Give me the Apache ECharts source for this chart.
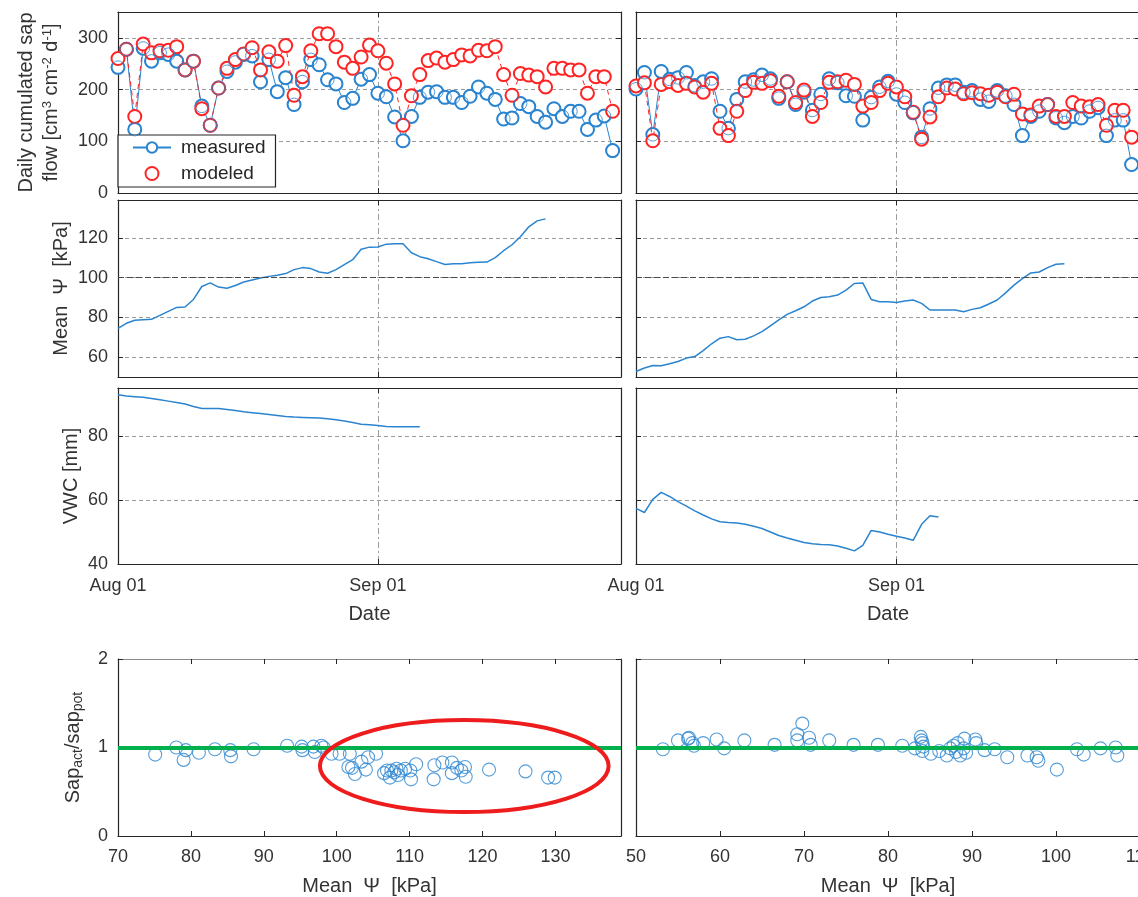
<!DOCTYPE html>
<html><head><meta charset="utf-8">
<script src="https://cdn.jsdelivr.net/npm/echarts@6/dist/echarts.min.js"></script>
<style>html,body{margin:0;padding:0;background:#fff}#c{width:1138px;height:897px}</style>
</head><body><div id="c"></div><script>
// ---------------- DATA ----------------
const dayTickValues = [0, 31];
const dayTickLabels = ['Aug 01', 'Sep 01'];
const dayRange = [0, 60];            // Aug 01 .. Sep 30 (day offsets)

const sapTicks = [0, 100, 200, 300];
const psiTicks = [60, 80, 100, 120];
const vwcTicks = [40, 60, 80];
const ratioTicks = [0, 1, 2];
const psiAxisTicksA = [70, 80, 90, 100, 110, 120, 130];
const psiAxisTicksB = [50, 60, 70, 80, 90, 100, 110];

// daily cumulated sap flow, left site (day 0 = Aug 01)
const sapMeasuredA = [243,278,123,280,255,271,268,255,238,255,
  168,131,203,235,253,268,265,215,258,196,
  223,171,215,258,248,219,211,175,183,220,
  229,193,186,147,101,148,185,195,196,185,
  185,175,187,205,193,181,143,145,173,167,
  148,137,163,148,158,158,123,141,149,82];
const sapModeledA = [260,278,148,288,271,275,276,283,238,255,
  163,131,203,241,258,269,281,238,273,255,
  285,189,225,275,308,308,283,253,241,263,
  286,275,251,211,131,188,229,256,261,253,
  258,267,265,276,275,283,229,189,231,228,
  225,205,241,241,238,238,193,225,225,158];
// right site
const sapMeasuredB = [201,233,113,235,220,223,233,208,215,221,
  158,125,181,215,219,228,221,183,215,171,
  195,160,191,221,213,188,187,141,185,205,
  216,191,175,155,108,163,203,209,209,195,
  198,181,177,198,188,171,111,148,158,171,
  145,136,148,145,158,165,111,141,141,55];
const sapModeledB = [207,213,101,210,215,208,212,205,195,212,
  125,111,158,198,214,212,217,187,215,175,
  199,148,175,214,215,218,210,168,175,198,
  212,205,186,156,104,147,186,203,201,192,
  194,192,189,195,186,191,153,151,168,171,
  148,148,175,168,167,171,131,160,160,108];

// mean soil water potential [kPa]
const psiA = [74.5,77,78.5,78.8,79,81,83,85,85.2,89,
  95.5,97.3,95.2,94.6,96,97.8,98.8,99.8,100.6,101.2,
  102,104,105,104.5,102.8,102.2,104,106.5,109,114.2,
  115.3,115.4,116.8,117,117,112.5,110.5,109.5,108,106.6,
  107,107,107.5,107.7,107.8,110,113.5,116.5,120.5,125.5,
  128.5,129.5];
const psiB = [52.8,54.5,55.8,55.7,56.7,57.8,59.5,60.3,63.3,66.7,
  69.5,70.3,68.7,69,70.7,72.8,75.7,78.7,81.5,83.3,
  85.3,88.2,90,90.3,91.2,93.7,97,97.3,89,87.8,
  87.8,87.5,88.2,88.7,87,83.7,83.7,83.7,83.7,82.8,
  84,84.8,86.7,88.7,92.3,96.2,99.5,102.3,102.8,105,
  106.7,107];
const psiThreshold = 100;

// soil water content [mm]
const vwcA = [92.9,92.5,92.3,92.1,91.7,91.3,90.9,90.5,90.0,89.2,
  88.6,88.6,88.6,88.3,88.0,87.6,87.3,87.0,86.7,86.4,
  86.1,85.9,85.8,85.7,85.6,85.4,85.1,84.7,84.2,83.7,
  83.5,83.3,83.0,82.9,82.9,82.9,82.9];
const vwcB = [57.4,56.1,60.2,62.4,61.1,59.5,58.1,56.6,55.3,54.1,
  53.2,53.0,52.8,52.4,51.8,51.1,50.0,48.9,48.1,47.4,
  46.7,46.3,46.1,46.0,45.6,44.9,44.1,45.8,50.5,50.0,
  49.3,48.7,48.1,47.4,52.4,55.1,54.7];

// sap_act / sap_pot versus mean psi
const ratioPsiA = [75.1,78.0,79.3,79.0,81.1,83.3,85.4,85.5,88.6,93.2,
  95.2,95.3,96.8,97.0,97.9,98.2,99.3,100.4,101.8,101.6,
  102.1,102.5,103.4,104.0,104.3,105.4,106.5,106.9,107.3,107.5,
  107.9,108.2,108.4,108.8,109.4,110.1,110.2,110.9,113.3,113.4,
  114.5,115.8,115.8,116.5,117.1,117.6,117.7,120.9,125.9,129.0,129.9];
const ratioA = [0.92,1.00,0.97,0.86,0.94,0.98,0.97,0.90,0.98,1.02,
  1.01,0.97,1.01,0.95,1.02,1.00,0.93,0.93,0.93,0.78,
  0.77,0.70,0.84,0.75,0.89,0.93,0.71,0.74,0.66,0.74,
  0.72,0.76,0.69,0.74,0.76,0.74,0.64,0.81,0.64,0.80,
  0.83,0.83,0.71,0.77,0.74,0.78,0.67,0.75,0.73,0.66,0.66];
const ratioPsiB = [53.2,55.0,56.2,56.3,56.7,56.9,58.0,59.6,60.5,62.9,
  66.5,69.2,69.2,69.8,70.6,70.8,73.0,75.9,78.8,81.7,
  83.2,83.9,84.0,84.1,84.2,84.1,85.1,86.1,87.0,87.4,
  87.8,88.1,88.3,88.6,89.0,89.1,89.3,90.4,90.5,91.5,
  92.7,94.2,96.6,97.7,97.9,100.1,102.5,103.3,105.3,107.1,107.3];
const ratioB = [0.98,1.08,1.10,1.11,1.05,1.02,1.05,1.09,0.99,1.08,
  1.03,1.15,1.08,1.27,1.11,1.03,1.08,1.03,1.03,1.02,
  0.99,1.12,1.08,1.05,1.01,0.96,0.93,0.96,0.91,0.99,
  1.02,0.95,1.05,0.91,0.99,1.10,0.94,1.09,1.05,0.97,
  0.98,0.89,0.91,0.89,0.85,0.75,0.98,0.92,0.99,1.00,0.91];
const ratioRef = 1;
// highlighted region (data units): centre psi, centre ratio, half-width psi, half-height ratio
const stressEllipse = [117.5, 0.79, 19.8, 0.52];

// ---------------- STYLE / LAYOUT ----------------
const FONT = '"Liberation Sans", Arial, sans-serif';
const AX = '#262626', TXT = '#333333', GRIDC = '#9c9c9c';
const BLUE = '#2a84cf', RED = '#ff2424', GREEN = '#00b04c';
const cols = [{left: 118, width: 503}, {left: 636, width: 504}];
const rows = [{top: 12, height: 181}, {top: 200, height: 177}, {top: 388, height: 176}, {top: 659, height: 177}];

const grid = [];
rows.forEach(r => cols.forEach(c => grid.push({left: c.left, top: r.top, width: c.width, height: r.height,
  containLabel: false, outerBoundsMode: 'none'})));

const xAxis = [], yAxis = [];
function addAxes(kind, g, cfg) {
  const arr = kind === 'x' ? xAxis : yAxis;
  arr.push({
    type: 'value', gridIndex: g, min: cfg.min, max: cfg.max,
    position: kind === 'x' ? 'bottom' : 'left',
    axisLine: {show: true, onZero: false, lineStyle: {color: AX, width: 1.2}},
    axisTick: {show: true, inside: true, length: 5, customValues: cfg.ticks, lineStyle: {color: AX, width: 1}},
    axisLabel: {show: !!cfg.labels, customValues: cfg.ticks, formatter: cfg.fmt || (v => String(v)),
      fontSize: 18, fontFamily: FONT, color: TXT, margin: cfg.margin || 10, hideOverlap: false},
    splitLine: {show: !!cfg.split, lineStyle: {color: GRIDC, width: 1, type: cfg.splitType || [4, 3]}},
    name: cfg.name || '', nameLocation: 'middle', nameGap: cfg.nameGap || 0, nameRotate: kind === 'y' ? 90 : 0,
    nameTextStyle: Object.assign({fontSize: 20, fontFamily: FONT, color: TXT}, cfg.nameStyle || {})
  });
  arr.push({
    type: 'value', gridIndex: g, min: cfg.min, max: cfg.max,
    position: kind === 'x' ? 'top' : 'right',
    axisLine: {show: true, onZero: false, lineStyle: {color: cfg.secColor || AX, width: 1.2}},
    axisTick: {show: true, inside: true, length: 5, customValues: cfg.ticks, lineStyle: {color: AX, width: 1}},
    axisLabel: {show: false}, splitLine: {show: false}
  });
}
const dateFmt = v => { const i = dayTickValues.indexOf(v); return i >= 0 ? dayTickLabels[i] : ''; };

for (let r = 0; r < 4; r++) {
  for (let c = 0; c < 2; c++) {
    const g = r * 2 + c;
    if (r < 3) {
      addAxes('x', g, {min: dayRange[0], max: dayRange[1], ticks: dayTickValues, labels: r === 2, fmt: dateFmt,
        split: true, splitType: [6, 3, 2, 3], name: r === 2 ? 'Date' : '', nameGap: 40, margin: 13});
    } else {
      addAxes('x', g, {min: c === 0 ? 70 : 50, max: c === 0 ? 139 : 110,
        ticks: c === 0 ? psiAxisTicksA : psiAxisTicksB, labels: true, margin: 12,
        name: 'Mean  \u03A8  [kPa]', nameGap: 40, secColor: '#8a8a8a'});
    }
    const yl = c === 0;
    if (r === 0) addAxes('y', g, {min: 0, max: 350, ticks: sapTicks, labels: yl, split: true,
      name: yl ? 'Daily cumulated sap\nflow [cm{sup|3} cm{sup|-2} d{sup|-1}]' : '', nameGap: 54,
      nameStyle: {lineHeight: 25, rich: {sup: {fontSize: 13, fontFamily: FONT, color: TXT, padding: [0, 0, 9, 0], lineHeight: 25}}}});
    if (r === 1) addAxes('y', g, {min: 50, max: 139, ticks: psiTicks, labels: yl, split: true,
      name: yl ? 'Mean  \u03A8  [kPa]' : '', nameGap: 47});
    if (r === 2) addAxes('y', g, {min: 40, max: 95, ticks: vwcTicks, labels: yl, split: true,
      name: yl ? 'VWC [mm]' : '', nameGap: 37});
    if (r === 3) addAxes('y', g, {min: 0, max: 2, ticks: ratioTicks, labels: yl, split: false,
      name: yl ? 'Sap{sub|act}/sap{sub|pot}' : '', nameGap: 33,
      nameStyle: {rich: {sub: {fontSize: 14, fontFamily: FONT, color: TXT, padding: [10, 0, 0, 0]}}}});
  }
}

const toXY = arr => arr.map((v, i) => [i, v]);
const series = [];
function ax(g) { return {xAxisIndex: 2 * g, yAxisIndex: 2 * g}; }

[[sapMeasuredA, sapModeledA], [sapMeasuredB, sapModeledB]].forEach((pair, c) => {
  const g = c;
  series.push(Object.assign({type: 'line', name: 'measured', data: toXY(pair[0]), symbol: 'emptyCircle', symbolSize: 13,
    showAllSymbol: true, lineStyle: {color: BLUE, width: 1}, itemStyle: {color: BLUE, borderWidth: 1},
    z: 2, animation: false, silent: true}, ax(g)));
  series.push(Object.assign({type: 'line', name: 'modeled', data: toXY(pair[1]), symbol: 'emptyCircle', symbolSize: 13,
    showAllSymbol: true, lineStyle: {color: RED, width: 1, type: [5, 4]}, itemStyle: {color: RED, borderWidth: 1},
    z: 3, animation: false, silent: true}, ax(g)));
  series.push(Object.assign({type: 'scatter', name: '_measuredRing', data: toXY(pair[0]), symbol: 'circle', symbolSize: 13,
    itemStyle: {color: 'rgba(0,0,0,0)', borderColor: BLUE, borderWidth: 1}, z: 4, animation: false, silent: true}, ax(g)));
});

[psiA, psiB].forEach((d, c) => {
  series.push(Object.assign({type: 'line', name: '_psi' + c, data: toXY(d), showSymbol: false,
    lineStyle: {color: BLUE, width: 1.5}, animation: false, silent: true,
    markLine: {silent: true, symbol: 'none', label: {show: false}, animation: false,
      lineStyle: {color: '#4a4a4a', type: [6, 3], width: 1.2}, data: [{yAxis: psiThreshold}]}}, ax(2 + c)));
});
[vwcA, vwcB].forEach((d, c) => {
  series.push(Object.assign({type: 'line', name: '_vwc' + c, data: toXY(d), showSymbol: false,
    lineStyle: {color: BLUE, width: 1.5}, animation: false, silent: true}, ax(4 + c)));
});
[[ratioPsiA, ratioA], [ratioPsiB, ratioB]].forEach((p, c) => {
  series.push(Object.assign({type: 'scatter', name: '_ratio' + c, data: p[0].map((x, i) => [x, p[1][i]]),
    symbol: 'circle', symbolSize: 13, itemStyle: {color: 'rgba(0,0,0,0)', borderColor: BLUE, borderWidth: 1.1},
    animation: false, silent: true,
    markLine: {silent: true, symbol: 'none', label: {show: false}, animation: false,
      lineStyle: {color: GREEN, type: 'solid', width: 4}, data: [{yAxis: ratioRef}]}}, ax(6 + c)));
});
series.push(Object.assign({type: 'custom', name: '_ellipse', data: [stressEllipse], silent: true, animation: false, z: 5,
  renderItem: (params, api) => {
    const c = api.coord([api.value(0), api.value(1)]);
    const p = api.coord([api.value(0) + api.value(2), api.value(1) + api.value(3)]);
    return {type: 'ellipse', shape: {cx: c[0], cy: c[1], rx: Math.abs(p[0] - c[0]), ry: Math.abs(p[1] - c[1])},
      style: {fill: 'none', stroke: '#ee1c1c', lineWidth: 4}};
  }}, ax(6)));

const chart = echarts.init(document.getElementById('c'), null, {renderer: 'canvas'});
chart.setOption({
  animation: false,
  backgroundColor: '#ffffff',
  grid, xAxis, yAxis, series,
  legend: {
    data: [{name: 'measured'}, {name: 'modeled', icon: 'emptyCircle'}],
    left: 118, top: 135, orient: 'vertical', selectedMode: false,
    backgroundColor: '#ffffff', borderColor: AX, borderWidth: 1.2,
    padding: [3, 10, 4, 14], itemGap: 7, itemWidth: 38, itemHeight: 13,
    textStyle: {fontSize: 19, fontFamily: FONT, color: '#262626', padding: [0, 0, 0, 5]}
  }
});
</script></body></html>
